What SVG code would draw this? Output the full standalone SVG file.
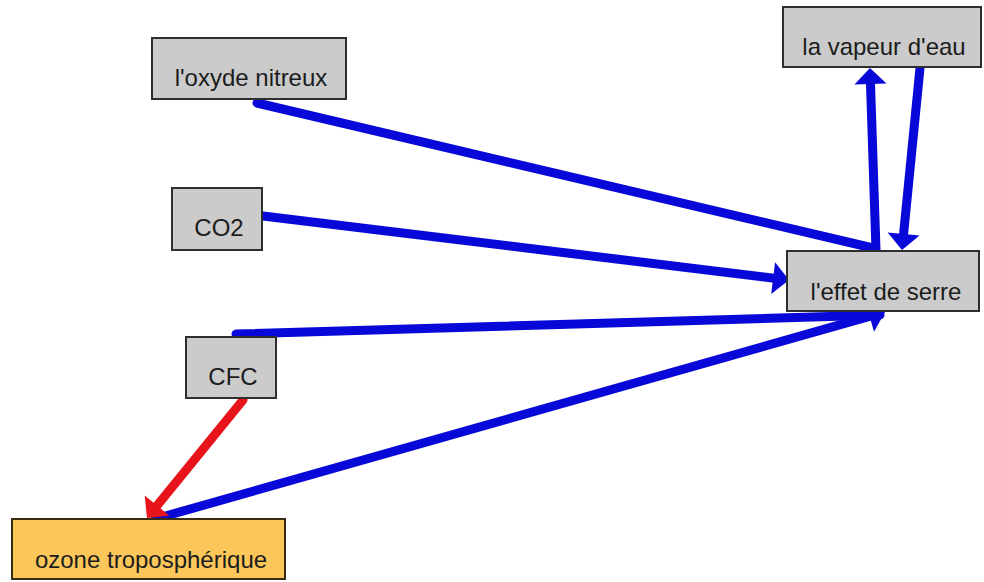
<svg xmlns="http://www.w3.org/2000/svg" width="984" height="582" viewBox="0 0 984 582">
<style>
.box{fill:#cbcbcb;stroke:#2e2e2e;stroke-width:2}
.oz{fill:#fcc75a;stroke:#3a2c12;stroke-width:2}
.lbl{font-family:"Liberation Sans",Arial,sans-serif;font-size:24px;fill:#1c1c1c;text-anchor:middle}
.blue{stroke:#0808d8;stroke-width:9;fill:none;stroke-linecap:round}
.red{stroke:#e8141c;stroke-width:9;fill:none;stroke-linecap:round}
</style>
<defs>
<marker id="ab" markerUnits="userSpaceOnUse" markerWidth="16" markerHeight="32" refX="9" refY="16" orient="auto" overflow="visible">
<path d="M0,0 L16,16 L0,32 Z" fill="#0808d8"/>
</marker>
<marker id="ar" markerUnits="userSpaceOnUse" markerWidth="16" markerHeight="32" refX="9" refY="16" orient="auto" overflow="visible">
<path d="M0,0 L16,16 L0,32 Z" fill="#e8141c"/>
</marker>
</defs>
<rect width="984" height="582" fill="#ffffff"/>
<g id="connectors">
<line class="blue" x1="257" y1="103" x2="873" y2="248"/>
<line class="blue" x1="263" y1="216" x2="782.1" y2="279.2" marker-end="url(#ab)"/>
<line class="blue" x1="876" y1="250" x2="870.2" y2="75" marker-end="url(#ab)"/>
<line class="blue" x1="920" y1="68" x2="902.7" y2="243" marker-end="url(#ab)"/>
<line class="blue" x1="236" y1="334" x2="880" y2="315"/>
<line class="blue" x1="155" y1="519" x2="878.3" y2="313.9" marker-end="url(#ab)"/>
<line class="red" x1="243" y1="400" x2="151.4" y2="512.6" marker-end="url(#ar)"/>
</g>
<g id="oxyde">
<rect class="box" x="152" y="38" width="194" height="61"/>
<text class="lbl" x="251" y="86">l'oxyde nitreux</text>
</g>
<g id="co2">
<rect class="box" x="172" y="188" width="90" height="62"/>
<text class="lbl" x="219" y="236">CO2</text>
</g>
<g id="cfc">
<rect class="box" x="186" y="337" width="90" height="61"/>
<text class="lbl" x="233" y="385">CFC</text>
</g>
<g id="vapeur">
<rect class="box" x="783" y="7" width="198" height="60"/>
<text class="lbl" x="884" y="55">la vapeur d'eau</text>
</g>
<g id="effet">
<rect class="box" x="787" y="251" width="192" height="60"/>
<text class="lbl" x="886" y="300">l'effet de serre</text>
</g>
<g id="ozone">
<rect class="oz" x="12" y="519" width="273" height="60"/>
<text class="lbl" x="151" y="568">ozone troposphérique</text>
</g>
</svg>
